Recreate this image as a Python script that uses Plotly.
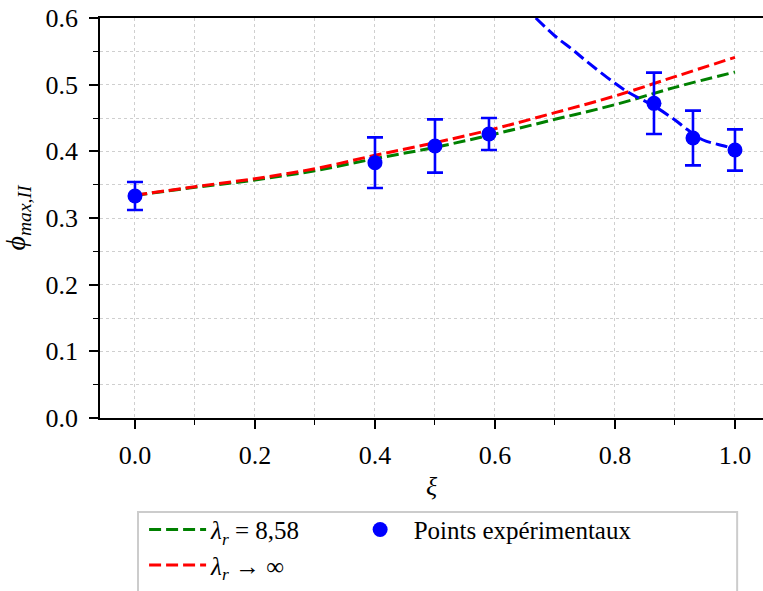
import plotly.graph_objects as go

# Experimental points
xi_exp = [0.0, 0.4, 0.5, 0.59, 0.865, 0.93, 1.0]
phi_exp = [0.333, 0.383, 0.408, 0.426, 0.472, 0.420, 0.402]
phi_err = [0.021, 0.038, 0.040, 0.024, 0.046, 0.041, 0.031]

# Model curves
xi_model = [0.0, 0.1, 0.2, 0.3, 0.4, 0.5, 0.6, 0.7, 0.8, 0.9, 1.0]
phi_lam858 = [0.334, 0.346, 0.357, 0.371, 0.389, 0.406, 0.426, 0.448, 0.470, 0.496, 0.519]
phi_laminf = [0.334, 0.347, 0.359, 0.374, 0.394, 0.413, 0.434, 0.458, 0.483, 0.512, 0.541]

# Blue dashed curve
xi_blue = [0.668, 0.70, 0.73, 0.75, 0.80, 0.825, 0.865, 0.90, 0.92, 0.947, 0.986, 1.0]
phi_blue = [0.600, 0.573, 0.552, 0.537, 0.502, 0.487, 0.468, 0.447, 0.433, 0.417, 0.407, 0.402]

FONT = "Liberation Serif, DejaVu Serif, serif"
DASH = "12px,5px"
GRID = "#cfcfcf"

fig = go.Figure()
fig.add_trace(go.Scatter(
    x=xi_model, y=phi_lam858, mode="lines", line_shape="spline",
    line=dict(color="green", width=3, dash=DASH),
    name="<i>λ</i><sub><i>r</i></sub> = 8,58", legend="legend"))
fig.add_trace(go.Scatter(
    x=xi_model, y=phi_laminf, mode="lines", line_shape="spline",
    line=dict(color="red", width=3, dash=DASH),
    name="<i>λ</i><sub><i>r</i></sub> → ∞", legend="legend"))
fig.add_trace(go.Scatter(
    x=xi_blue, y=phi_blue, mode="lines", line_shape="spline",
    line=dict(color="blue", width=3, dash=DASH),
    showlegend=False))
fig.add_trace(go.Scatter(
    x=xi_exp, y=phi_exp, mode="markers",
    marker=dict(color="blue", size=15),
    error_y=dict(type="data", array=phi_err, color="blue", thickness=2.6, width=8),
    name="Points expérimentaux", legend="legend2"))

leg_common = dict(
    orientation="v", xanchor="left", yanchor="top", y=-0.222,
    bgcolor="rgba(0,0,0,0)", borderwidth=0,
    font=dict(family=FONT, size=25), itemwidth=57, tracegroupgap=0,
)

fig.update_layout(
    width=763, height=591,
    margin=dict(l=100, r=0, t=18, b=173, autoexpand=False),
    paper_bgcolor="white", plot_bgcolor="white",
    font=dict(family=FONT, size=26, color="black"),
    showlegend=True,
    legend=dict(x=0.0665, **leg_common),
    legend2=dict(x=0.372, **leg_common),
    shapes=[dict(
        type="rect", xref="paper", yref="paper",
        x0=0.0573, x1=0.961, y0=-0.47, y1=-0.235,
        line=dict(color="#cccccc", width=2), fillcolor="white", layer="below",
    )],
)
fig.update_xaxes(
    range=[-0.0583, 1.0467], tickmode="array", automargin=False,
    tickvals=[0.0, 0.2, 0.4, 0.6, 0.8, 1.0],
    ticktext=["0.0", "0.2", "0.4", "0.6", "0.8", "1.0"],
    tickfont=dict(size=26), ticklabelstandoff=4, ticklabeloverflow="allow",
    ticks="outside", ticklen=9, tickwidth=1.5, tickcolor="black",
    showline=True, linecolor="black", linewidth=1.8, mirror=True,
    showgrid=True, gridcolor=GRID, griddash="dot", gridwidth=1.3,
    zeroline=False,
    minor=dict(dtick=0.1, tick0=0.1, ticks="outside", ticklen=5, tickwidth=1.2,
               tickcolor="black", showgrid=True, gridcolor=GRID,
               griddash="dot", gridwidth=1.3),
    title=dict(text="<i>ξ</i>", standoff=8, font=dict(size=26)),
)
fig.update_yaxes(
    range=[0, 0.6], tickmode="array", automargin=False,
    tickvals=[0.0, 0.1, 0.2, 0.3, 0.4, 0.5, 0.6],
    ticktext=["0.0", "0.1", "0.2", "0.3", "0.4", "0.5", "0.6"],
    tickfont=dict(size=26), ticklabelstandoff=6, ticklabeloverflow="allow",
    ticks="outside", ticklen=9, tickwidth=1.5, tickcolor="black",
    showline=True, linecolor="black", linewidth=1.8, mirror=False,
    showgrid=True, gridcolor=GRID, griddash="dot", gridwidth=1.3,
    zeroline=False,
    minor=dict(dtick=0.05, tick0=0.05, ticks="outside", ticklen=5, tickwidth=1.2,
               tickcolor="black", showgrid=True, gridcolor=GRID,
               griddash="dot", gridwidth=1.3),
    title=dict(text="<i>ϕ</i><sub><i>max,II</i></sub>", standoff=12, font=dict(size=28)),
)

# remove the browser's default 8px body margin so the figure fills the window
fig.write_html("out.html", config={"displayModeBar": False},
               post_script="document.body.style.margin='0';")
